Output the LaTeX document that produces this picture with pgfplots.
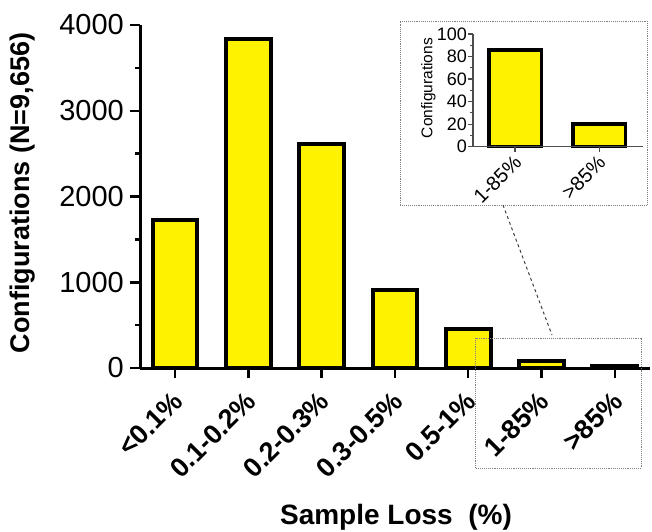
\documentclass[border=0pt]{standalone}
\usepackage{fontspec}
\setmainfont{Liberation Sans}
\usepackage{pgfplots}
\pgfplotsset{compat=1.18}
\begin{document}
\begin{tikzpicture}
\useasboundingbox (0,0) rectangle (652pt,531pt);
\begin{axis}[
  at={(140pt,163pt)}, anchor=south west,
  scale only axis, width=510pt, height=343pt,
  xmin=-0.477, xmax=6.48, ymin=0, ymax=4000,
  clip=false, axis on top,
  axis x line*=bottom, axis y line*=left,
  axis line style={line width=3pt, -},
  xtick pos=bottom, ytick pos=left,
  xtick align=outside, ytick align=outside,
  major tick length=10pt, minor tick length=5pt,
  xtick style={black, line width=2.5pt},
  ytick style={black, line width=2.5pt},
  minor y tick num=1,
  xtick={0,1,2,3,4,5,6},
  xticklabels={{<0.1\%},{0.1-0.2\%},{0.2-0.3\%},{0.3-0.5\%},{0.5-1\%},{1-85\%},{>85\%}},
  ytick={0,1000,2000,3000,4000},
  /pgf/number format/assume math mode=true,
  /pgf/number format/1000 sep={},
  yticklabel style={font=\fontsize{29}{31}\selectfont, inner sep=0pt, anchor=east, xshift=-6pt},
  xticklabel style={font=\bfseries\fontsize{27}{29}\selectfont, rotate=45, anchor=east, inner sep=0pt, yshift=-15pt, xshift=-11pt},
  ylabel={\bfseries Configurations (N=9,656)},
  ylabel style={font=\bfseries\fontsize{27}{29}\selectfont, at={(axis description cs:-0.230,0.51)}, anchor=center, rotate=0},
  xlabel={\bfseries Sample Loss\ \ (\%)},
  xlabel style={font=\bfseries\fontsize{28}{30}\selectfont, at={(axis description cs:0.502,-0.434)}, anchor=center},
]
\addplot[ybar, bar width=0.61, fill=yellow, draw=black, line width=4pt]
  coordinates {(0,1730) (1,3840) (2,2615) (3,910) (4,455) (5,86) (6,20)};
\pgfplotsinvokeforeach{0,...,6}{
  \draw[black, line width=2.5pt] (axis cs:#1,0) -- ([yshift=-10pt]axis cs:#1,0);
}
\end{axis}
\begin{axis}[
  at={(473pt,384.3pt)}, anchor=south west,
  scale only axis, width=170pt, height=112.7pt,
  xmin=-0.5, xmax=1.52, ymin=0, ymax=100,
  clip=false, axis on top,
  axis x line*=bottom, axis y line*=left,
  axis line style={line width=1.4pt, black!70, -},
  xtick pos=bottom, ytick pos=left,
  xtick align=outside, ytick align=outside,
  major tick length=5pt, minor tick length=3pt,
  xtick style={black!70, line width=1.2pt},
  ytick style={black!70, line width=1.2pt},
  minor y tick num=1,
  xtick={0,1},
  xticklabels={{1-85\%},{>85\%}},
  ytick={0,20,40,60,80,100},
  /pgf/number format/assume math mode=true,
  yticklabel style={font=\fontsize{18}{20}\selectfont, inner sep=0pt, anchor=east, xshift=-1pt},
  xticklabel style={font=\fontsize{20}{22}\selectfont, rotate=45, anchor=east, inner sep=0pt, yshift=-7pt, xshift=-3pt},
  ylabel={Configurations},
  ylabel style={font=\fontsize{15.5}{17}\selectfont, at={(axis description cs:-0.262,0.52)}, anchor=center},
]
\addplot[ybar, bar width=0.625, fill=yellow, draw=black, line width=3.5pt]
  coordinates {(0,86) (1,20)};
\pgfplotsinvokeforeach{0,1}{
  \draw[black!70, line width=1.2pt] (axis cs:#1,0) -- ([yshift=-5pt]axis cs:#1,0);
}
\end{axis}
\draw[gray, densely dotted, line width=0.9pt] (400pt,326pt) rectangle (647pt,510pt);
\draw[gray, densely dotted, line width=0.9pt] (475.7pt,63pt) rectangle (641pt,193pt);
\draw[black!75, dash pattern=on 3pt off 3pt, line width=1pt] (503pt,326pt) -- (552pt,196pt);
\end{tikzpicture}
\end{document}
